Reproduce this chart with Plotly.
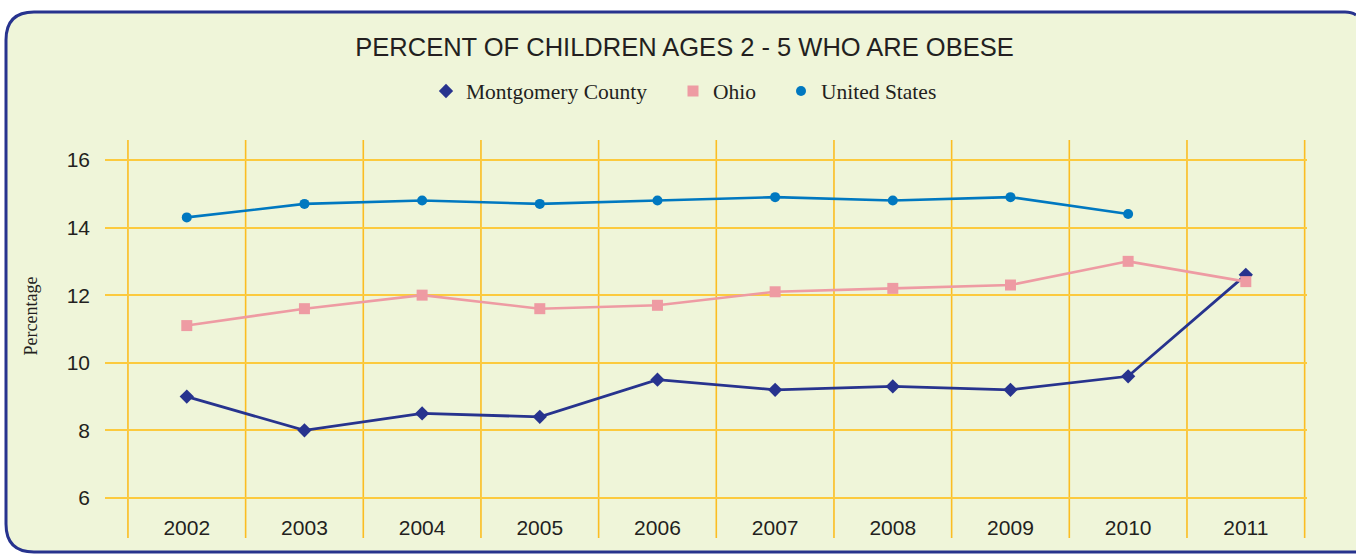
import plotly.graph_objects as go

years = ["2002", "2003", "2004", "2005", "2006", "2007", "2008", "2009", "2010", "2011"]
montgomery = [9.0, 8.0, 8.5, 8.4, 9.5, 9.2, 9.3, 9.2, 9.6, 12.6]
ohio = [11.1, 11.6, 12.0, 11.6, 11.7, 12.1, 12.2, 12.3, 13.0, 12.4]
united_states = [14.3, 14.7, 14.8, 14.7, 14.8, 14.9, 14.8, 14.9, 14.4, None]
y_ticks = [6, 8, 10, 12, 14, 16]

W, H = 1356, 554
L, R, T, B = 105, 49, 140, 54
PW, PH = W - L - R, H - T - B

def px(xp):
    return (xp - L) / PW

def py(yp):
    return (H - B - yp) / PH

TEXT = "#231f20"
NAVY = "#27338e"
PINK = "#ee9ba3"
BLUE = "#0078c0"
HGRID = "#fcca3e"
VGRID = "#fbbd22"

series = [
    ("Montgomery County", montgomery, NAVY, "diamond", 11, 2.8, "legend", 426),
    ("Ohio", ohio, PINK, "square", 11, 2.6, "legend2", 673),
    ("United States", united_states, BLUE, "circle", 10, 2.6, "legend3", 781),
]

fig = go.Figure()
for name, vals, col, sym, size, lw, lg, lx in series:
    fig.add_trace(go.Scatter(x=years, y=vals, name=name, mode="lines+markers",
                             line=dict(color=col, width=lw), showlegend=False,
                             marker=dict(symbol=sym, size=size, color=col)))
for name, vals, col, sym, size, lw, lg, lx in series:
    fig.add_trace(go.Scatter(x=[None], y=[None], name=name, mode="markers", legend=lg,
                             marker=dict(symbol=sym, size=size, color=col), showlegend=True))

# rounded panel (right side runs off the page); all points kept inside the page
x0, y0, y1, r = 6, 12, 552, 28
xe = 1356
path = (f"M {px(xe)},{py(y1)} L {px(x0 + r)},{py(y1)} "
        f"Q {px(x0)},{py(y1)} {px(x0)},{py(y1 - r)} L {px(x0)},{py(y0 + r)} "
        f"Q {px(x0)},{py(y0)} {px(x0 + r)},{py(y0)} L {px(1345)},{py(y0)} "
        f"Q {px(1352)},{py(y0)} {px(xe)},{py(y0 + 3)}")
fill_path = (f"M {px(x0 + r)},{py(y0)} L {px(1345)},{py(y0)} L {px(xe)},{py(y0 + 3)} "
             f"L {px(xe)},{py(y1)} L {px(x0 + r)},{py(y1)} Q {px(x0)},{py(y1)} {px(x0)},{py(y1 - r)} "
             f"L {px(x0)},{py(y0 + r)} Q {px(x0)},{py(y0)} {px(x0 + r)},{py(y0)} Z")
shapes = [
    dict(type="path", path=fill_path, xref="paper", yref="paper", layer="below",
         fillcolor="#eff5d9", line=dict(width=0)),
    dict(type="path", path=path, xref="paper", yref="paper", layer="below",
         line=dict(color=NAVY, width=3)),
]
for i in range(len(years) + 1):
    shapes.append(dict(type="line", xref="x", yref="paper", x0=i - 0.5, x1=i - 0.5,
                       y0=py(538), y1=1, layer="below",
                       line=dict(color=VGRID, width=1.6)))

legend_font = dict(family="Liberation Serif, Times New Roman, serif", size=21.5, color=TEXT)
legends = {}
for name, vals, col, sym, size, lw, lg, lx in series:
    legends[lg] = dict(orientation="h", x=lx / W, xref="container", xanchor="left",
                       y=1 - 91 / H, yref="container", yanchor="middle",
                       font=legend_font, bgcolor="rgba(0,0,0,0)")

fig.update_layout(
    width=W, height=H,
    margin=dict(l=L, r=R, t=T, b=B),
    paper_bgcolor="white",
    plot_bgcolor="rgba(0,0,0,0)",
    title=dict(text="PERCENT OF CHILDREN AGES 2 - 5 WHO ARE OBESE",
               x=684.5 / W, xref="container", xanchor="center",
               y=1 - 47 / H, yref="container", yanchor="middle",
               font=dict(family="Liberation Sans, Arial, sans-serif", size=25.5, color=TEXT)),
    showlegend=True,
    shapes=shapes,
    annotations=[dict(text="Percentage", textangle=-90, xref="paper", yref="paper",
                      x=px(30.5), y=py(316), showarrow=False, xanchor="center", yanchor="middle",
                      font=dict(family="Liberation Serif, Times New Roman, serif", size=18, color=TEXT))],
    xaxis=dict(type="category", range=[-0.695, 9.52], showgrid=False, zeroline=False,
               showline=False, ticks="", ticklabelstandoff=13,
               tickfont=dict(family="Liberation Sans, Arial, sans-serif", size=21, color=TEXT)),
    yaxis=dict(range=[5.94, 16.59], tickvals=y_ticks, showgrid=True, gridcolor=HGRID,
               gridwidth=1.6, zeroline=False, showline=False, ticks="", ticklabelstandoff=14,
               tickfont=dict(family="Liberation Sans, Arial, sans-serif", size=21, color=TEXT)),
    **legends,
)

fig.write_html("out.html", config={"displayModeBar": False},
               post_script="document.body.style.margin='0';")
